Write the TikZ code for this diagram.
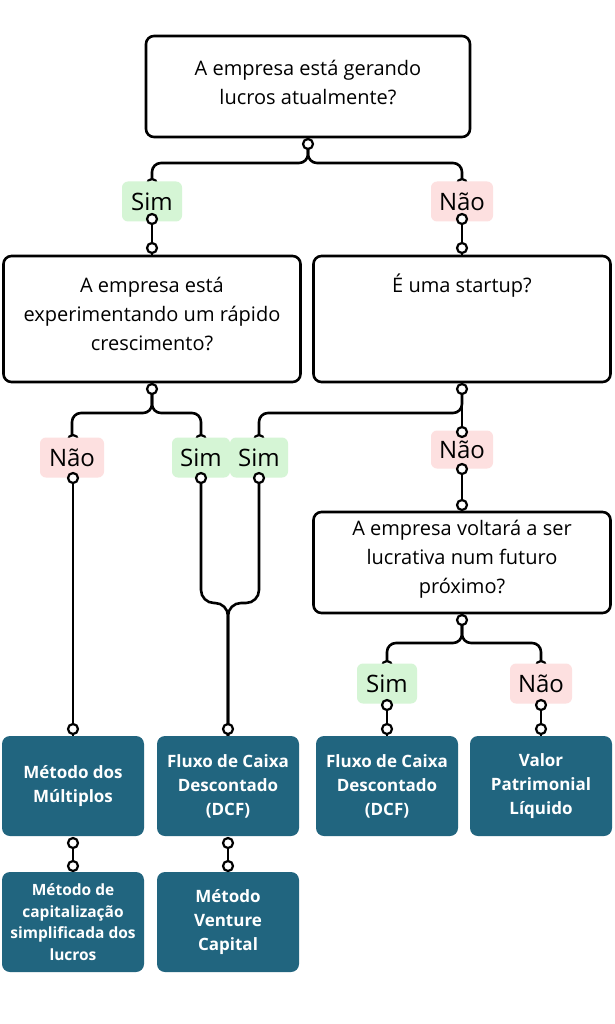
\documentclass[tikz,border=0pt]{standalone}
\usepackage{fontspec}
\setmainfont{Open Sans}
\pgfdeclarelayer{back}
\pgfdeclarelayer{bg}
\pgfsetlayers{back,bg,main}
\definecolor{boxteal}{HTML}{21657F}
\definecolor{simg}{HTML}{D5F5D5}
\definecolor{naop}{HTML}{FDE0E0}
\tikzset{
  qbox/.style={draw, line width=2.6pt, rounded corners=8pt, fill=white},
  qtext/.style={align=center, font=\fontsize{20}{29}\selectfont, inner sep=0pt},
  lbl/.style={rounded corners=6pt, minimum width=60pt, minimum height=40pt, inner sep=0pt, font=\fontsize{24}{28}\selectfont},
  simlbl/.style={lbl, fill=simg},
  naolbl/.style={lbl, fill=naop},
  mbox/.style={fill=boxteal, rounded corners=8pt, minimum width=142pt, minimum height=100pt, text=white, font=\bfseries\fontsize{17}{24}\selectfont, align=center, inner sep=0pt},
  dot/.style={circle, draw, line width=2.2pt, fill=white, minimum size=10pt, inner sep=0pt},
  conn/.style={line width=2.6pt, rounded corners=9pt},
  merge/.style={line width=2.6pt, rounded corners=13pt}
}
\begin{document}
\begin{tikzpicture}[x=1pt,y=-1pt]
\useasboundingbox (0,0) rectangle (614,1024);
\begin{pgfonlayer}{back}
\fill[white] (0,0) rectangle (614,1024);
\end{pgfonlayer}
% question boxes
\node[qbox, minimum width=324pt, minimum height=101pt] (q1) at (308,86.5) {};
\node[qtext] (t1) at (308,82.5) {A empresa está gerando\\lucros atualmente?};
\node[qbox, minimum width=297pt, minimum height=126pt] (q2) at (152,319) {};
\node[qtext] (t2) at (152,314) {A empresa está\\experimentando um rápido\\crescimento?};
\node[qbox, minimum width=297pt, minimum height=126pt] (q3) at (462,319) {};
\node[qtext] (t3) at (462,286) {É uma startup?};
\node[qbox, minimum width=297pt, minimum height=101pt] (q4) at (462,562.5) {};
\node[qtext] (t4) at (462,559) {A empresa voltará a ser\\lucrativa num futuro\\próximo?};
% labels
\node[simlbl] (simA) at (152,201.5) {Sim};
\node[naolbl, minimum width=62pt] (naoA) at (462,201.5) {Não};
\node[naolbl, minimum width=64pt] (naoB) at (72,457.5) {Não};
\node[simlbl, minimum width=58pt] (simB) at (201,457.5) {Sim};
\node[simlbl, minimum width=58pt] (simC) at (259,457.5) {Sim};
\node[naolbl, minimum width=62pt, minimum height=38pt] (naoC) at (462,449.5) {Não};
\node[simlbl] (simD) at (387,683.5) {Sim};
\node[naolbl, minimum width=62pt] (naoD) at (541,683.5) {Não};
% method boxes
\node[mbox] (b1) at (73,786) {Método dos\\Múltiplos};
\node[mbox] (b2) at (228,786) {Fluxo de Caixa\\Descontado\\(DCF)};
\node[mbox] (b3) at (387,786) {Fluxo de Caixa\\Descontado\\(DCF)};
\node[mbox] (b4) at (541,786) {Valor\\Patrimonial\\Líquido};
\node[mbox, font=\bfseries\fontsize{15.5}{21.5}\selectfont] (b5) at (73,922) {Método de\\capitalização\\simplificada dos\\lucros};
\node[mbox] (b6) at (228,922) {Método\\Venture\\Capital};
% visible dots
\node[dot] (d1) at (308,144) {};
\node[dot] (dsa) at (152,219) {};
\node[dot] (dq2t) at (152,248) {};
\node[dot] (dna) at (462,219) {};
\node[dot] (dq3t) at (462,248) {};
\node[dot] (dq2b) at (152,389) {};
\node[dot] (dq3b) at (462,389) {};
\node[dot] (dnct) at (462,432) {};
\node[dot] (dncb) at (462,469) {};
\node[dot] (dq4t) at (462,505) {};
\node[dot] (dnbb) at (73,478) {};
\node[dot] (db1t) at (73,729) {};
\node[dot] (dsbb) at (201,478) {};
\node[dot] (dscb) at (259,478) {};
\node[dot] (db2t) at (228,729) {};
\node[dot] (dq4b) at (462,620) {};
\node[dot] (dsdb) at (387,705) {};
\node[dot] (db3t) at (387,729) {};
\node[dot] (dndb) at (541,705) {};
\node[dot] (db4t) at (541,729) {};
\node[dot] (db1b) at (73,843) {};
\node[dot] (db5t) at (73,866) {};
\node[dot] (db2b) at (228,843) {};
\node[dot] (db6t) at (228,866) {};
\coordinate (f1) at (308,163);
\coordinate (f2) at (152,413);
\coordinate (f3) at (462,413);
\coordinate (f4) at (462,643);
\coordinate (m) at (228,603);
\begin{pgfonlayer}{bg}
\draw[conn] (q1.south) -- (d1.center) -- (f1) -| (simA.north);
\draw[conn] (d1.center) -- (f1) -| (naoA.north);
\draw[conn] (dsa.center) -- (q2.north);
\draw[conn] (dna.center) -- (q3.north);
\draw[conn] (q2.south) -- (dq2b.center) -- (f2) -| (naoB.north);
\draw[conn] (dq2b.center) -- (f2) -| (simB.north);
\draw[conn] (q3.south) -- (dq3b.center) -- (dnct.center);
\draw[conn] (dq3b.center) -- (f3) -| (simC.north);
\draw[conn] (dncb.center) -- (q4.north);
\draw[conn] (dnbb.center) -- (b1.north);
\draw[merge] (dsbb.center) |- (m) -- (b2.north);
\draw[merge] (dscb.center) |- (m) -- (b2.north);
\draw[conn] (q4.south) -- (dq4b.center) -- (f4) -| (simD.north);
\draw[conn] (dq4b.center) -- (f4) -| (naoD.north);
\draw[conn] (dsdb.center) -- (b3.north);
\draw[conn] (dndb.center) -- (b4.north);
\draw[conn] (db1b.center) -- (b5.north);
\draw[conn] (db2b.center) -- (b6.north);
% hidden dots behind label tops
\node[dot] (hsa) at (152,184) {};
\node[dot] (hna) at (462,184) {};
\node[dot] (hnb) at (73,440) {};
\node[dot] (hsb) at (201,440) {};
\node[dot] (hsc) at (259,440) {};
\node[dot] (hsd) at (387,666) {};
\node[dot] (hnd) at (541,666) {};
\end{pgfonlayer}
\end{tikzpicture}
\end{document}
